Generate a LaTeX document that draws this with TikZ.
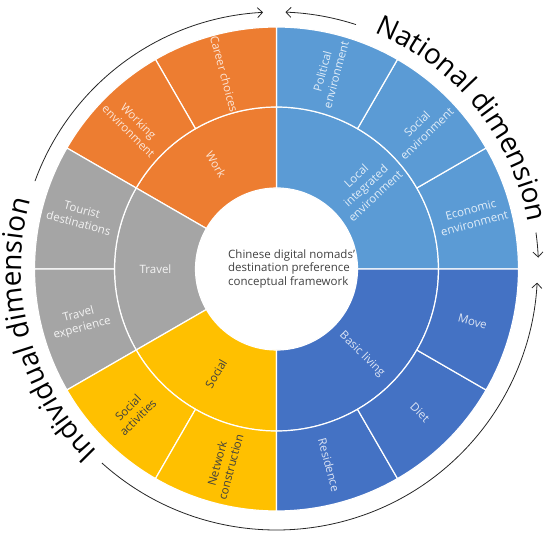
\documentclass[tikz,border=0pt]{standalone}
\usepackage{fontspec}
\setmainfont{Open Sans}
\usetikzlibrary{arrows.meta,decorations.text}
\definecolor{cLB}{HTML}{5B9BD5}
\definecolor{cOR}{HTML}{ED7D31}
\definecolor{cGR}{HTML}{A5A5A5}
\definecolor{cYE}{HTML}{FFC000}
\definecolor{cDB}{HTML}{4472C4}
\definecolor{tLB}{HTML}{E2EEF9}
\definecolor{tOR}{HTML}{FCE6D8}
\definecolor{tGR}{HTML}{F4F4F4}
\definecolor{tYE}{HTML}{3F3F3F}
\definecolor{tDB}{HTML}{DCE4F4}
\newcommand{\ringseg}[5]{%
  \path[seg, fill=#1] (#2:#4pt) arc[start angle=#2, end angle=#3, radius=#4pt]
    -- (#3:#5pt) arc[start angle=#3, end angle=#2, radius=#5pt] -- cycle;}
\newcommand{\seglab}[6]{%
  \node[lab, text=#5, rotate=#4] (#1) at (#2:#3pt) {#6};}
\begin{document}
\begin{tikzpicture}[x=1pt,y=1pt,
  seg/.style={draw=white, line width=1.2pt, line join=round},
  lab/.style={font=\fontsize{11.5}{14}\selectfont, align=center, inner sep=0pt},
  dimarrow/.style={draw=black!85, line width=0.8pt, -{Straight Barb[length=5pt,width=10pt]}}]
\useasboundingbox (-276.5,-266) rectangle (273.5,269);
% middle ring
\ringseg{cLB}{0}{90}{81}{162}
\ringseg{cOR}{90}{150}{81}{162}
\ringseg{cGR}{150}{210}{81}{162}
\ringseg{cYE}{210}{270}{81}{162}
\ringseg{cDB}{270}{360}{81}{162}
% outer ring
\ringseg{cLB}{0}{30}{162}{242}
\ringseg{cLB}{30}{60}{162}{242}
\ringseg{cLB}{60}{90}{162}{242}
\ringseg{cOR}{90}{120}{162}{242}
\ringseg{cOR}{120}{150}{162}{242}
\ringseg{cGR}{150}{180}{162}{242}
\ringseg{cGR}{180}{210}{162}{242}
\ringseg{cYE}{210}{240}{162}{242}
\ringseg{cYE}{240}{270}{162}{242}
\ringseg{cDB}{270}{300}{162}{242}
\ringseg{cDB}{300}{330}{162}{242}
\ringseg{cDB}{330}{360}{162}{242}
% middle labels
\seglab{local}{43}{122}{43}{tLB}{Local\\integrated\\environment}
\seglab{work}{120}{121}{-60}{tOR}{Work}
\seglab{travel}{180}{121}{0}{tGR}{Travel}
\seglab{social}{240}{121}{60}{tYE}{Social}
\seglab{basic}{315}{121}{-45}{tDB}{Basic living}
% outer labels
\seglab{econ}{15}{203}{15}{tLB}{Economic\\environment}
\seglab{socenv}{44}{202}{44}{tLB}{Social\\environment}
\seglab{polit}{75}{203}{75}{tLB}{Political\\environment}
\seglab{career}{105}{202}{-75}{tOR}{Career choices}
\seglab{workenv}{135}{202}{-45}{tOR}{Working\\environment}
\seglab{tourist}{165}{203}{-15}{tGR}{Tourist\\destinations}
\seglab{travexp}{195}{203}{15}{tGR}{Travel\\experience}
\seglab{socact}{225}{203}{45}{tYE}{Social\\activities}
\seglab{network}{255}{203}{75}{tYE}{Network\\construction}
\seglab{resid}{285}{203}{-75}{tDB}{Residence}
\seglab{diet}{315}{203}{-45}{tDB}{Diet}
\seglab{move}{345}{203}{-15}{tDB}{Move}
% center
\node[anchor=west, align=left, inner sep=0pt, text=black!75,
  font=\fontsize{11.5}{13.3}\selectfont] (centre) at (-48.5,0)
  {Chinese digital nomads'\\destination preference\\conceptual framework};
% dimension texts
\path[decorate, decoration={text along path, text align=center,
  text={|\fontsize{28}{30}\selectfont|National dimension}}]
  (78:256pt) arc[start angle=78, end angle=0, radius=256pt];
\path[decorate, decoration={text along path, text align=center,
  text={|\fontsize{28}{30}\selectfont|Individual dimension}}]
  (240:255pt) arc[start angle=240, end angle=150, radius=255pt];
% arrows
\draw[dimarrow] (160:257pt) arc[start angle=160, end angle=93, radius=257pt];
\draw[dimarrow] (72:257pt) arc[start angle=72, end angle=88, radius=257pt];
\draw[dimarrow] (8:262pt) arc[start angle=8, end angle=2.5, radius=262pt];
\draw[dimarrow] (228:261pt) arc[start angle=228, end angle=357, radius=261pt];
\end{tikzpicture}
\end{document}
